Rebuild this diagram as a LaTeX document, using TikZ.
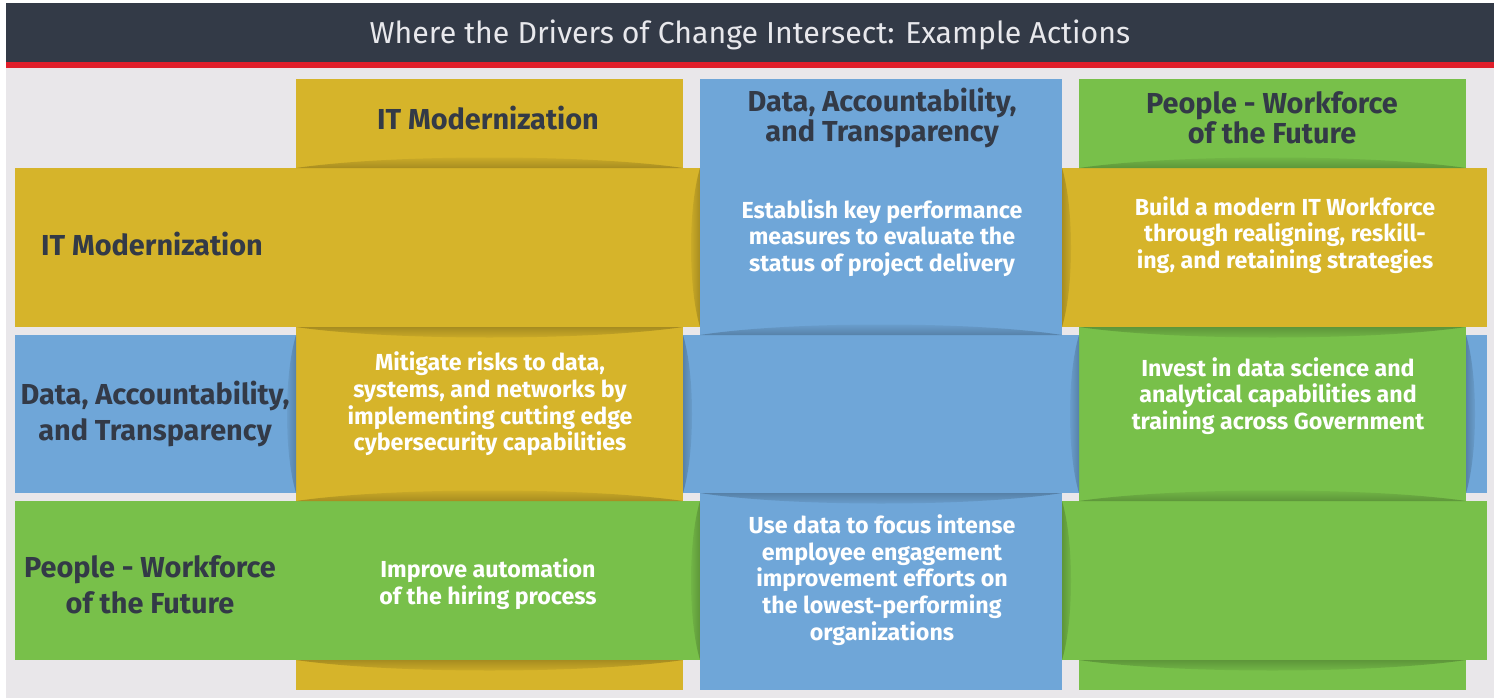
\documentclass[tikz,border=0pt]{standalone}
\usepackage{fontspec}
\setmainfont{Fira Sans}
\definecolor{barcolor}{RGB}{51,58,71}
\definecolor{redline}{RGB}{224,30,42}
\definecolor{bgcolor}{RGB}{233,231,234}
\definecolor{itcolor}{RGB}{214,180,42}
\definecolor{datacolor}{RGB}{111,166,216}
\definecolor{peoplecolor}{RGB}{120,192,74}
\definecolor{titletext}{RGB}{232,232,236}
\newlength{\du}
\setlength{\du}{1bp}
\tikzset{
  titlelabel/.style={font=\fontsize{30.4}{34}\selectfont, text=titletext, inner sep=0pt},
  headlabel/.style={font=\bfseries\fontsize{29}{30}\selectfont, text=barcolor, align=center, inner sep=0pt},
  rowlabel/.style={font=\bfseries\fontsize{29}{36}\selectfont, text=barcolor, align=center, inner sep=0pt},
  celllabel/.style={font=\bfseries\fontsize{23.3}{26.7}\selectfont, text=white, align=center, inner sep=0pt},
}

\begin{document}
\begin{tikzpicture}
\pgftransformxscale{1.000000}
\pgftransformyscale{-1.000000}
\useasboundingbox (0\du,0\du) rectangle (1501\du,698\du);
\fill[white] (0\du,0\du) rectangle (1501\du,698\du);
% frame and title bar
\fill[bgcolor] (6\du,68\du) rectangle (1494\du,698\du);
\fill[barcolor] (6\du,3\du) rectangle (1494\du,62\du);
\fill[redline] (6\du,62\du) rectangle (1494\du,68\du);
\node[titlelabel] (title) at (750\du,35\du){Where the Drivers of Change Intersect: Example Actions};
% columns, under the rows
\fill[itcolor] (296\du,79\du) rectangle (683\du,690\du);
\fill[datacolor] (700\du,79\du) rectangle (1062\du,690\du);
\fill[peoplecolor] (1079\du,79\du) rectangle (1466\du,690\du);
% rows
\fill[itcolor] (15\du,168\du) rectangle (1487\du,327\du);
\fill[datacolor] (15\du,335\du) rectangle (1487\du,493\du);
\fill[peoplecolor] (15\du,501\du) rectangle (1487\du,660\du);
% column pieces on top of the rows
\fill[datacolor] (700\du,79\du) rectangle (1062\du,335\du);
\fill[itcolor] (296\du,327\du) rectangle (683\du,501\du);
\fill[peoplecolor] (1079\du,327\du) rectangle (1466\du,501\du);
\fill[datacolor] (700\du,493\du) rectangle (1062\du,690\du);
% shadows of the rows on the columns
\shade[top color=itcolor, bottom color=itcolor!78!black] (296\du,168\du) .. controls (393\du,154\du) and (586\du,154\du) .. (683\du,168\du) -- cycle;
\shade[top color=itcolor!78!black, bottom color=itcolor] (296\du,327\du) .. controls (393\du,341\du) and (586\du,341\du) .. (683\du,327\du) -- cycle;
\shade[top color=peoplecolor, bottom color=peoplecolor!78!black] (1079\du,168\du) .. controls (1176\du,154\du) and (1369\du,154\du) .. (1466\du,168\du) -- cycle;
\shade[top color=peoplecolor!78!black, bottom color=peoplecolor] (1079\du,327\du) .. controls (1176\du,341\du) and (1369\du,341\du) .. (1466\du,327\du) -- cycle;
\shade[top color=datacolor, bottom color=datacolor!78!black] (700\du,335\du) .. controls (790\du,321\du) and (972\du,321\du) .. (1062\du,335\du) -- cycle;
\shade[top color=datacolor!78!black, bottom color=datacolor] (700\du,493\du) .. controls (790\du,507\du) and (972\du,507\du) .. (1062\du,493\du) -- cycle;
\shade[top color=itcolor, bottom color=itcolor!78!black] (296\du,501\du) .. controls (393\du,487\du) and (586\du,487\du) .. (683\du,501\du) -- cycle;
\shade[top color=itcolor!78!black, bottom color=itcolor] (296\du,660\du) .. controls (393\du,674\du) and (586\du,674\du) .. (683\du,660\du) -- cycle;
\shade[top color=peoplecolor, bottom color=peoplecolor!78!black] (1079\du,501\du) .. controls (1176\du,487\du) and (1369\du,487\du) .. (1466\du,501\du) -- cycle;
\shade[top color=peoplecolor!78!black, bottom color=peoplecolor] (1079\du,660\du) .. controls (1176\du,674\du) and (1369\du,674\du) .. (1466\du,660\du) -- cycle;
% shadows of the columns on the rows
\shade[left color=itcolor, right color=itcolor!78!black] (700\du,168\du) .. controls (688\du,208\du) and (688\du,287\du) .. (700\du,327\du) -- cycle;
\shade[left color=itcolor!78!black, right color=itcolor] (1062\du,168\du) .. controls (1074\du,208\du) and (1074\du,287\du) .. (1062\du,327\du) -- cycle;
\shade[left color=datacolor, right color=datacolor!78!black] (296\du,335\du) .. controls (284\du,375\du) and (284\du,453\du) .. (296\du,493\du) -- cycle;
\shade[left color=datacolor!78!black, right color=datacolor] (683\du,335\du) .. controls (695\du,375\du) and (695\du,453\du) .. (683\du,493\du) -- cycle;
\shade[left color=datacolor, right color=datacolor!78!black] (1079\du,335\du) .. controls (1067\du,375\du) and (1067\du,453\du) .. (1079\du,493\du) -- cycle;
\shade[left color=datacolor!78!black, right color=datacolor] (1466\du,335\du) .. controls (1478\du,375\du) and (1478\du,453\du) .. (1466\du,493\du) -- cycle;
\shade[left color=peoplecolor, right color=peoplecolor!78!black] (700\du,501\du) .. controls (688\du,541\du) and (688\du,620\du) .. (700\du,660\du) -- cycle;
\shade[left color=peoplecolor!78!black, right color=peoplecolor] (1062\du,501\du) .. controls (1074\du,541\du) and (1074\du,620\du) .. (1062\du,660\du) -- cycle;
% column headings
\node[headlabel] (colIT) at (488\du,118\du){IT Modernization};
\node[headlabel] (colData) at (882\du,118\du){Data, Accountability,\\and Transparency};
\node[headlabel] (colPeople) at (1272\du,118\du){People - Workforce\\of the Future};
% row headings
\node[rowlabel] (rowIT) at (152\du,244\du){IT Modernization};
\node[rowlabel] (rowData) at (155\du,414\du){Data, Accountability,\\and Transparency};
\node[rowlabel] (rowPeople) at (150\du,585\du){People - Workforce\\of the Future};
% example actions
\node[celllabel] (itData) at (882\du,238\du){Establish key performance\\measures to evaluate the\\status of project delivery};
\node[celllabel] (itPeople) at (1285\du,235\du){Build a modern IT Workforce\\through realigning, reskill-\\ing, and retaining strategies};
\node[celllabel] (dataIT) at (490\du,404\du){Mitigate risks to data,\\systems, and networks by\\implementing cutting edge\\cybersecurity capabilities};
\node[celllabel] (dataPeople) at (1278\du,396\du){Invest in data science and\\analytical capabilities and\\training across Government};
\node[celllabel] (peopleIT) at (488\du,584\du){Improve automation\\of the hiring process};
\node[celllabel] (peopleData) at (882\du,580\du){Use data to focus intense\\employee engagement\\improvement efforts on\\the lowest-performing\\organizations};
\end{tikzpicture}
\end{document}
